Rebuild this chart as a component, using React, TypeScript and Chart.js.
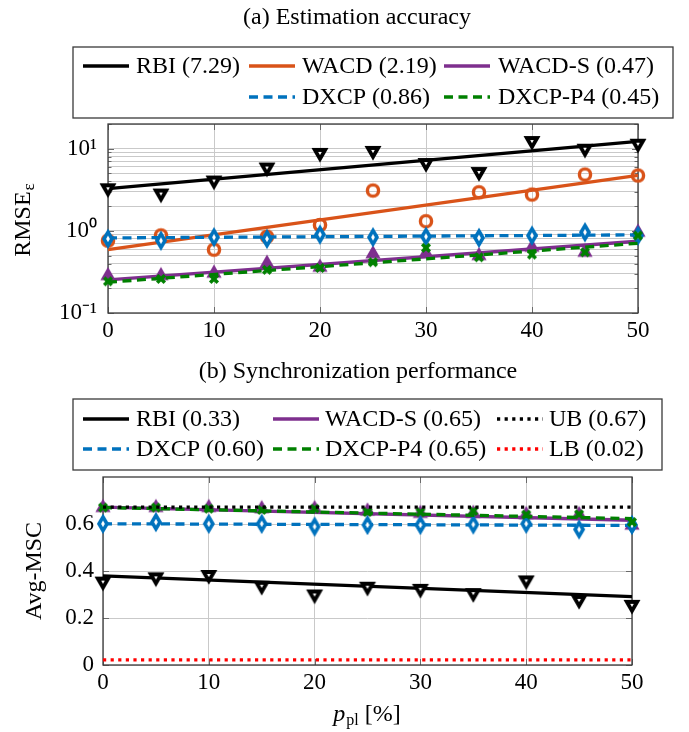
import React, { useEffect, useRef } from "react";
import { Chart, registerables } from "chart.js";

Chart.register(...registerables);

// ---------- shared data ----------
const X_VALUES = [0, 5, 10, 15, 20, 25, 30, 35, 40, 45, 50];
const FIT_X = [0, 50];
const X_TICKS = [0, 10, 20, 30, 40, 50];

// ---------- (a) Estimation accuracy ----------
const TITLE_A = "(a) Estimation accuracy";
const RBI_A = [3.3, 2.85, 4.1, 5.9, 8.9, 9.4, 6.7, 5.2, 12.4, 10.0, 11.5];
const RBI_A_FIT = [3.27, 12.3];
const WACD_A = [0.76, 0.88, 0.59, 0.85, 1.18, 3.1, 1.31, 2.95, 2.77, 4.85, 4.72];
const WACD_A_FIT = [0.59, 4.75];
const WACDS_A = [0.285, 0.285, 0.305, 0.403, 0.36, 0.525, 0.533, 0.5, 0.631, 0.549, 0.962];
const WACDS_A_FIT = [0.253, 0.747];
const DXCP_A = [0.8, 0.76, 0.836, 0.8, 0.9, 0.836, 0.852, 0.822, 0.876, 0.961, 0.876];
const DXCP_A_FIT = [0.82, 0.894];
const DXCPP4_A = [0.243, 0.26, 0.26, 0.335, 0.354, 0.415, 0.621, 0.477, 0.514, 0.549, 0.877];
const DXCPP4_A_FIT = [0.237, 0.706];
const Y_TICKS_A = [0.1, 1, 10];
const Y_TICK_LABELS_A = ["10\u207B\u00B9", "10\u2070", "10\u00B9"];
const LEGEND_A = ["RBI (7.29)", "WACD (2.19)", "WACD-S (0.47)", "DXCP (0.86)", "DXCP-P4 (0.45)"];

// ---------- (b) Synchronization performance ----------
const TITLE_B = "(b) Synchronization performance";
const RBI_B = [0.355, 0.373, 0.383, 0.337, 0.3, 0.333, 0.324, 0.306, 0.36, 0.277, 0.256];
const RBI_B_FIT = [0.379, 0.291];
const WACDS_B = [0.67, 0.67, 0.67, 0.665, 0.665, 0.655, 0.645, 0.645, 0.64, 0.64, 0.595];
const WACDS_B_FIT = [0.672, 0.616];
const DXCP_B = [0.601, 0.608, 0.601, 0.601, 0.589, 0.596, 0.596, 0.598, 0.601, 0.577, 0.596];
const DXCP_B_FIT = [0.601, 0.594];
const DXCPP4_B = [0.67, 0.67, 0.665, 0.66, 0.665, 0.651, 0.65, 0.655, 0.64, 0.641, 0.608];
const DXCPP4_B_FIT = [0.67, 0.623];
const UB_B = [0.672, 0.672];
const LB_B = [0.022, 0.022];
const Y_TICKS_B = [0, 0.2, 0.4, 0.6];
const Y_TICK_LABELS_B = ["0", "0.2", "0.4", "0.6"];
const LEGEND_B = ["RBI (0.33)", "WACD-S (0.65)", "UB (0.67)", "DXCP (0.60)", "DXCP-P4 (0.65)", "LB (0.02)"];

// ---------- styles ----------
const FONT = '"Liberation Serif", "Times New Roman", serif';
const C_RBI = "#000000";
const C_WACD = "#D95319";
const C_WACDS = "#7E2F8E";
const C_DXCP = "#0072BD";
const C_P4 = "#008000";
const C_LB = "#FF0000";
const DASH = [9, 5.5];
const DOT = [3.2, 4.4];
const LW = 3.3;
const GRID = "#c9c9c9";

type MarkerKind = "triDown" | "triUp" | "circle" | "diamond" | "cross";

function makeMarker(kind: MarkerKind, color: string): HTMLCanvasElement {
  const S = 30;
  const c = document.createElement("canvas");
  c.width = S;
  c.height = S;
  const g = c.getContext("2d")!;
  const cx = S / 2;
  const cy = S / 2;
  g.strokeStyle = color;
  g.fillStyle = color;
  g.lineJoin = "miter";
  g.beginPath();
  if (kind === "triDown" || kind === "triUp") {
    const R = kind === "triDown" ? 6.0 : 6.6;
    const s = kind === "triDown" ? 1 : -1;
    const h = (R * Math.sqrt(3)) / 2;
    g.moveTo(cx - h, cy - (s * R) / 2);
    g.lineTo(cx + h, cy - (s * R) / 2);
    g.lineTo(cx, cy + s * R);
    g.closePath();
    if (kind === "triDown") {
      g.fillStyle = "#fff";
      g.fill();
      g.lineWidth = 3.8;
      g.stroke();
    } else {
      g.fill();
      g.lineWidth = 2.2;
      g.stroke();
    }
  } else if (kind === "circle") {
    g.arc(cx, cy, 5.6, 0, Math.PI * 2);
    g.lineWidth = 3.4;
    g.stroke();
  } else if (kind === "diamond") {
    g.moveTo(cx, cy - 6.8);
    g.lineTo(cx + 4, cy);
    g.lineTo(cx, cy + 6.8);
    g.lineTo(cx - 4, cy);
    g.closePath();
    g.fillStyle = "#fff";
    g.fill();
    g.lineWidth = 3.6;
    g.stroke();
  } else {
    const a = 3.8;
    g.moveTo(cx - a, cy - a);
    g.lineTo(cx + a, cy + a);
    g.moveTo(cx + a, cy - a);
    g.lineTo(cx - a, cy + a);
    g.lineWidth = 3.6;
    g.lineCap = "butt";
    g.stroke();
  }
  return c;
}

function fitLine(label: string, ys: number[], color: string, dash: number[], order: number) {
  return {
    label,
    data: FIT_X.map((x, i) => ({ x, y: ys[i] })),
    borderColor: color,
    backgroundColor: color,
    borderWidth: LW,
    borderDash: dash,
    pointRadius: 0,
    fill: false,
    tension: 0,
    clip: false as any,
    order,
  };
}

function markers(label: string, ys: number[], style: HTMLCanvasElement, color: string, order: number) {
  return {
    label,
    data: X_VALUES.map((x, i) => ({ x, y: ys[i] })),
    showLine: false,
    pointStyle: style,
    pointRadius: 6,
    borderColor: color,
    backgroundColor: color,
    clip: false as any,
    order,
  };
}

type LegendEntry = { label: string; color: string; dash: number[]; sx: number; tx: number; y: number };

function overlayPlugin(opts: {
  title: string;
  titleX: number;
  titleY: number;
  box: [number, number, number, number];
  entries: LegendEntry[];
  yTitle: { main: string; sub: string; x: number; y: number };
  xTitle?: { x: number; y: number };
}) {
  return {
    id: "overlay",
    beforeDatasetsDraw(chart: any) {
      const { ctx, chartArea: a, scales } = chart;
      ctx.save();
      ctx.strokeStyle = "#6a6a6a";
      ctx.lineWidth = 1;
      ctx.setLineDash([]);
      ctx.beginPath();
      scales.x.ticks.forEach((t: any) => {
        const px = Math.round(scales.x.getPixelForValue(t.value)) + 0.5;
        ctx.moveTo(px, a.bottom);
        ctx.lineTo(px, a.bottom - 6);
        ctx.moveTo(px, a.top);
        ctx.lineTo(px, a.top + 6);
      });
      scales.y.ticks.forEach((t: any) => {
        const py = Math.round(scales.y.getPixelForValue(t.value)) + 0.5;
        const len = t.label ? 6 : 3.5;
        ctx.moveTo(a.left, py);
        ctx.lineTo(a.left + len, py);
        ctx.moveTo(a.right, py);
        ctx.lineTo(a.right - len, py);
      });
      ctx.stroke();
      ctx.strokeStyle = "#3a3a3a";
      ctx.lineWidth = 1.3;
      ctx.strokeRect(a.left, a.top, a.right - a.left, a.bottom - a.top);
      ctx.restore();
    },
    afterDraw(chart: any) {
      const { ctx } = chart;
      ctx.save();
      ctx.fillStyle = "#000";
      ctx.textBaseline = "middle";
      ctx.font = `24px ${FONT}`;
      ctx.textAlign = "center";
      ctx.fillText(opts.title, opts.titleX, opts.titleY);

      // legend box
      const [x0, y0, x1, y1] = opts.box;
      ctx.fillStyle = "#fff";
      ctx.fillRect(x0, y0, x1 - x0, y1 - y0);
      ctx.strokeStyle = "#3a3a3a";
      ctx.lineWidth = 1.3;
      ctx.setLineDash([]);
      ctx.strokeRect(x0, y0, x1 - x0, y1 - y0);
      ctx.textAlign = "left";
      ctx.fillStyle = "#000";
      opts.entries.forEach((e) => {
        ctx.save();
        ctx.strokeStyle = e.color;
        ctx.lineWidth = 3.6;
        ctx.setLineDash(e.dash);
        ctx.beginPath();
        ctx.moveTo(e.sx, e.y);
        ctx.lineTo(e.sx + 46, e.y);
        ctx.stroke();
        ctx.restore();
        ctx.fillText(e.label, e.tx, e.y + 1);
      });

      // y title (rotated)
      const yt = opts.yTitle;
      ctx.save();
      ctx.translate(yt.x, yt.y);
      ctx.rotate(-Math.PI / 2);
      ctx.font = `24px ${FONT}`;
      const wMain = ctx.measureText(yt.main).width;
      ctx.font = `17px ${FONT}`;
      const wSub = yt.sub ? ctx.measureText(yt.sub).width + 1 : 0;
      const start = -(wMain + wSub) / 2;
      ctx.textAlign = "left";
      ctx.font = `24px ${FONT}`;
      ctx.fillText(yt.main, start, 0);
      if (yt.sub) {
        ctx.font = `17px ${FONT}`;
        ctx.fillText(yt.sub, start + wMain + 1, 6);
      }
      ctx.restore();

      if (opts.xTitle) {
        const xt = opts.xTitle;
        ctx.font = `italic 24px ${FONT}`;
        const wp = ctx.measureText("p").width;
        ctx.font = `16px ${FONT}`;
        const ws = ctx.measureText("pl").width;
        ctx.font = `24px ${FONT}`;
        const wr = ctx.measureText(" [%]").width;
        let sx = xt.x - (wp + ws + 1 + wr) / 2;
        ctx.textAlign = "left";
        ctx.font = `italic 24px ${FONT}`;
        ctx.fillText("p", sx, xt.y);
        sx += wp + 1;
        ctx.font = `16px ${FONT}`;
        ctx.fillText("pl", sx, xt.y + 6);
        sx += ws;
        ctx.font = `24px ${FONT}`;
        ctx.fillText(" [%]", sx, xt.y);
      }
      ctx.restore();
    },
  };
}

function xScale(height: number) {
  return {
    type: "linear" as const,
    min: 0,
    max: 50,
    afterBuildTicks: (s: any) => {
      s.ticks = X_TICKS.map((v) => ({ value: v }));
    },
    afterFit: (s: any) => {
      s.height = height;
    },
    grid: { color: GRID, lineWidth: 1, drawTicks: false },
    border: { display: false },
    ticks: {
      autoSkip: false,
      maxRotation: 0,
      padding: 4,
      color: "#000",
      font: { family: FONT, size: 23 },
      callback: (v: any) => String(v),
    },
  };
}

export default function App() {
  const refA = useRef<HTMLCanvasElement>(null);
  const refB = useRef<HTMLCanvasElement>(null);

  useEffect(() => {
    if (!refA.current || !refB.current) return;

    const mRBI = makeMarker("triDown", C_RBI);
    const mWACD = makeMarker("circle", C_WACD);
    const mWACDS = makeMarker("triUp", C_WACDS);
    const mDXCP = makeMarker("diamond", C_DXCP);
    const mP4 = makeMarker("cross", C_P4);

    const chartA = new Chart(refA.current, {
      type: "line",
      data: {
        datasets: [
          fitLine("RBI", RBI_A_FIT, C_RBI, [], 10),
          markers("RBI pts", RBI_A, mRBI, C_RBI, 9),
          fitLine("WACD", WACD_A_FIT, C_WACD, [], 8),
          markers("WACD pts", WACD_A, mWACD, C_WACD, 7),
          fitLine("WACD-S", WACDS_A_FIT, C_WACDS, [], 6),
          markers("WACD-S pts", WACDS_A, mWACDS, C_WACDS, 5),
          fitLine("DXCP", DXCP_A_FIT, C_DXCP, DASH, 4),
          markers("DXCP pts", DXCP_A, mDXCP, C_DXCP, 3),
          fitLine("DXCP-P4", DXCPP4_A_FIT, C_P4, DASH, 2),
          markers("DXCP-P4 pts", DXCPP4_A, mP4, C_P4, 1),
        ] as any,
      },
      options: {
        animation: false,
        responsive: false,
        maintainAspectRatio: false,
        layout: { padding: { top: 124, right: 51, left: 0, bottom: 0 } },
        plugins: { legend: { display: false }, tooltip: { enabled: false }, title: { display: false } },
        scales: {
          x: xScale(37),
          y: {
            type: "logarithmic",
            min: 0.1,
            max: 20,
            afterBuildTicks: (s: any) => {
              const t: any[] = [];
              Y_TICKS_A.forEach((d) => {
                for (let k = 1; k <= 9; k++) {
                  const v = +(k * d).toPrecision(3);
                  if (v <= 20) t.push({ value: v });
                }
              });
              t.push({ value: 20 });
              s.ticks = t;
            },
            afterFit: (s: any) => {
              s.width = 108;
            },
            grid: { color: GRID, lineWidth: 1, drawTicks: false },
            border: { display: false },
            ticks: {
              autoSkip: false,
              padding: 11,
              color: "#000",
              font: { family: FONT, size: 23 },
              callback: (v: any) => {
                const i = Y_TICKS_A.indexOf(+v);
                return i >= 0 ? Y_TICK_LABELS_A[i] : "";
              },
            },
          },
        },
      } as any,
      plugins: [
        overlayPlugin({
          title: TITLE_A,
          titleX: 357,
          titleY: 18,
          box: [73, 47, 673, 118],
          entries: [
            { label: LEGEND_A[0], color: C_RBI, dash: [], sx: 83, tx: 136, y: 66 },
            { label: LEGEND_A[1], color: C_WACD, dash: [], sx: 249, tx: 302, y: 66 },
            { label: LEGEND_A[2], color: C_WACDS, dash: [], sx: 444, tx: 498, y: 66 },
            { label: LEGEND_A[3], color: C_DXCP, dash: DASH, sx: 249, tx: 302, y: 97 },
            { label: LEGEND_A[4], color: C_P4, dash: DASH, sx: 444, tx: 498, y: 97 },
          ],
          yTitle: { main: "RMSE", sub: "\u03B5", x: 24, y: 220 },
        }),
      ],
    });

    const chartB = new Chart(refB.current, {
      type: "line",
      data: {
        datasets: [
          fitLine("RBI", RBI_B_FIT, C_RBI, [], 12),
          markers("RBI pts", RBI_B, mRBI, C_RBI, 11),
          fitLine("WACD-S", WACDS_B_FIT, C_WACDS, [], 10),
          markers("WACD-S pts", WACDS_B, mWACDS, C_WACDS, 9),
          fitLine("DXCP", DXCP_B_FIT, C_DXCP, DASH, 8),
          markers("DXCP pts", DXCP_B, mDXCP, C_DXCP, 7),
          fitLine("DXCP-P4", DXCPP4_B_FIT, C_P4, DASH, 6),
          markers("DXCP-P4 pts", DXCPP4_B, mP4, C_P4, 5),
          fitLine("UB", UB_B, C_RBI, DOT, 3),
          fitLine("LB", LB_B, C_LB, DOT, 2),
        ] as any,
      },
      options: {
        animation: false,
        responsive: false,
        maintainAspectRatio: false,
        layout: { padding: { top: 127, right: 57, left: 0, bottom: 0 } },
        plugins: { legend: { display: false }, tooltip: { enabled: false }, title: { display: false } },
        scales: {
          x: xScale(67),
          y: {
            type: "linear",
            min: 0,
            max: 0.8,
            afterBuildTicks: (s: any) => {
              s.ticks = Y_TICKS_B.map((v) => ({ value: v }));
            },
            afterFit: (s: any) => {
              s.width = 103;
            },
            grid: { color: GRID, lineWidth: 1, drawTicks: false },
            border: { display: false },
            ticks: {
              autoSkip: false,
              padding: 9,
              color: "#000",
              font: { family: FONT, size: 23 },
              callback: (v: any) => {
                const i = Y_TICKS_B.indexOf(+v);
                return i >= 0 ? Y_TICK_LABELS_B[i] : "";
              },
            },
          },
        },
      } as any,
      plugins: [
        overlayPlugin({
          title: TITLE_B,
          titleX: 358,
          titleY: 22,
          box: [73, 49, 662, 120],
          entries: [
            { label: LEGEND_B[0], color: C_RBI, dash: [], sx: 83, tx: 136, y: 69 },
            { label: LEGEND_B[1], color: C_WACDS, dash: [], sx: 273, tx: 325, y: 69 },
            { label: LEGEND_B[2], color: C_RBI, dash: DOT, sx: 497, tx: 549, y: 69 },
            { label: LEGEND_B[3], color: C_DXCP, dash: DASH, sx: 83, tx: 136, y: 99 },
            { label: LEGEND_B[4], color: C_P4, dash: DASH, sx: 273, tx: 325, y: 99 },
            { label: LEGEND_B[5], color: C_LB, dash: DOT, sx: 497, tx: 549, y: 99 },
          ],
          yTitle: { main: "Avg-MSC", sub: "", x: 35, y: 221 },
          xTitle: { x: 367, y: 365 },
        }),
      ],
    });

    return () => {
      chartA.destroy();
      chartB.destroy();
    };
  }, []);

  return (
    <div style={{ position: "absolute", left: 0, top: 0, width: 689, height: 732, background: "#fff" }}>
      <canvas
        ref={refA}
        width={689}
        height={350}
        style={{ position: "absolute", left: 0, top: 0, width: 689, height: 350 }}
      />
      <canvas
        ref={refB}
        width={689}
        height={382}
        style={{ position: "absolute", left: 0, top: 350, width: 689, height: 382 }}
      />
    </div>
  );
}
